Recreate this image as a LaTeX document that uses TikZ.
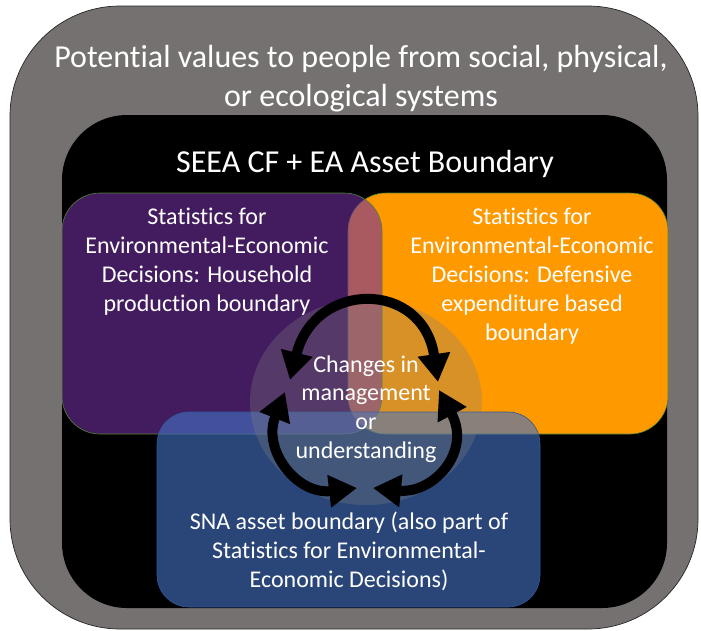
\documentclass[tikz,border=0pt]{standalone}
\usepackage{fontspec}
\setmainfont{Carlito}[Ligatures={NoCommon}]
\usetikzlibrary{arrows.meta,shapes.geometric}
\definecolor{grayouter}{HTML}{767171}
\definecolor{purp}{HTML}{7030A0}
\definecolor{orng}{HTML}{FF9900}
\definecolor{blu}{HTML}{4472C4}
\definecolor{bluline}{HTML}{2F5597}
\definecolor{grn}{HTML}{548235}
\tikzset{
  panel/.style={rectangle, inner sep=0pt, outer sep=0pt},
  lbl/.style={text=white, align=center, inner sep=0pt},
  big/.style={lbl, font=\fontsize{32}{39}\selectfont},
  small/.style={lbl, font=\fontsize{24}{29}\selectfont},
  cyc/.style={line width=10pt, {Triangle[length=28pt,width=31pt]}-{Triangle[length=28pt,width=31pt]}}
}
\begin{document}
\begin{tikzpicture}[x=1pt,y=-1pt]
\useasboundingbox (0,0) rectangle (701,630);
% outer gray
\node[panel, fill=grayouter, draw=black!85, line width=0.7pt, rounded corners=110pt,
  minimum width=688pt, minimum height=623pt] (outer) at (354,317.5) {};
% black asset boundary
\node[panel, fill=black, rounded corners=65pt,
  minimum width=605pt, minimum height=493pt] (seea) at (364.5,361.5) {};
% orange
\node[panel, fill=orng, draw=grn, line width=0.6pt, rounded corners=38pt,
  minimum width=320pt, minimum height=241pt] (def) at (508,313.5) {};
% purple
\node[panel, fill=purp, fill opacity=0.6, draw=grn, line width=0.6pt, rounded corners=38pt,
  minimum width=320pt, minimum height=241pt] (hh) at (222,313.5) {};
% blue
\node[panel, fill=blu, fill opacity=0.62, draw=bluline, line width=0.6pt, rounded corners=32pt,
  minimum width=383pt, minimum height=195pt] (sna) at (348.5,509.5) {};
% circle
\node[ellipse, inner sep=0pt, fill=black!50, fill opacity=0.3,
  minimum width=232pt, minimum height=206pt] (chg) at (366,402) {};

% texts
\node[big] (t1) at (361,78.5) {Potential values to people from social, physical,\\or ecological systems};
\node[big] (t2) at (365,164) {SEEA CF + EA Asset Boundary};
\node[small] (t3) at (207,262) {Statistics for\\Environmental-Economic\\Decisions: Household\\production boundary};
\node[small] (t4) at (532,276) {Statistics for\\Environmental-Economic\\Decisions: Defensive\\expenditure based\\boundary};
\node[small, font=\fontsize{24}{28.7}\selectfont] (t5) at (366,409) {Changes in\\management\\or\\understanding};
\node[small] (t6) at (349,551) {SNA asset boundary (also part of\\Statistics for Environmental-\\Economic Decisions)};

% arrows
\coordinate (a1) at (290,380);
\coordinate (a2) at (438,382);
\coordinate (b1) at (285,392);
\coordinate (b2) at (357,488);
\coordinate (c1) at (439,390);
\coordinate (c2) at (373,488);
\draw[cyc] (a1) .. controls (315,280) and (423,280) .. (a2);
\draw[cyc] (b1) .. controls (262,450) and (297,495) .. (b2);
\draw[cyc] (c1) .. controls (472,452) and (433,494) .. (c2);
\end{tikzpicture}
\end{document}
